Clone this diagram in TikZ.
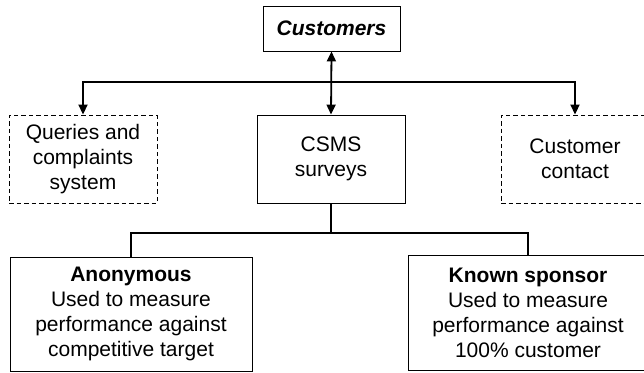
\documentclass[tikz,border=0pt]{standalone}
\usepackage{fontspec}
\setmainfont{Liberation Sans}
\usetikzlibrary{arrows.meta}
\begin{document}
\begin{tikzpicture}[x=1pt,y=-1pt,
  every node/.style={font=\fontsize{21}{25}\selectfont},
  box/.style={draw, line width=0.9pt, inner sep=0pt, align=center, anchor=center},
  dashbox/.style={box, dash pattern=on 4.5pt off 3pt},
  conn/.style={line width=1.8pt, line join=miter},
  tip/.style={-{Triangle[length=10pt,width=9pt]}},
  twotips/.style={{Triangle[length=10pt,width=9pt]}-{Triangle[length=10pt,width=9pt]}}]
  \useasboundingbox (0,0) rectangle (644,372);
  \clip (0,0) rectangle (644,372);

  % top level
  \node[box, minimum width=137pt, minimum height=45pt] (cust) at (331.5,28.5)
    {\textbf{\textit{Customers}}};

  % middle row
  \node[dashbox, minimum width=148pt, minimum height=88pt] (queries) at (83,159)
    {Queries and\\complaints\\system};
  \node[box, minimum width=148pt, minimum height=88pt] (csms) at (331,159)
    {CSMS\\surveys};
  \node[dashbox, minimum width=148pt, minimum height=88pt] (contact) at (575,159)
    {Customer\\contact};

  % bottom row
  \node[box, minimum width=242pt, minimum height=114pt] (anon) at (131,314)
    {\textbf{Anonymous}\\Used to measure\\performance against\\competitive target};
  \node[box, minimum width=240pt, minimum height=115pt] (known) at (528,312.5)
    {\textbf{Known sponsor}\\Used to measure\\performance against\\100\% customer};

  % junction points
  \coordinate (hub) at (331,82);
  \coordinate (split) at (331,233);

  % connectors from customers
  \draw[conn, twotips] (cust.south) -- (csms.north);
  \draw[conn, tip] (hub) -| (queries.north);
  \draw[conn, tip] (hub) -| (contact.north);

  % survey branches
  \draw[conn] (csms.south) -- (split);
  \draw[conn] (split) -| (anon.north);
  \draw[conn] (split) -| (known.north);
\end{tikzpicture}
\end{document}
